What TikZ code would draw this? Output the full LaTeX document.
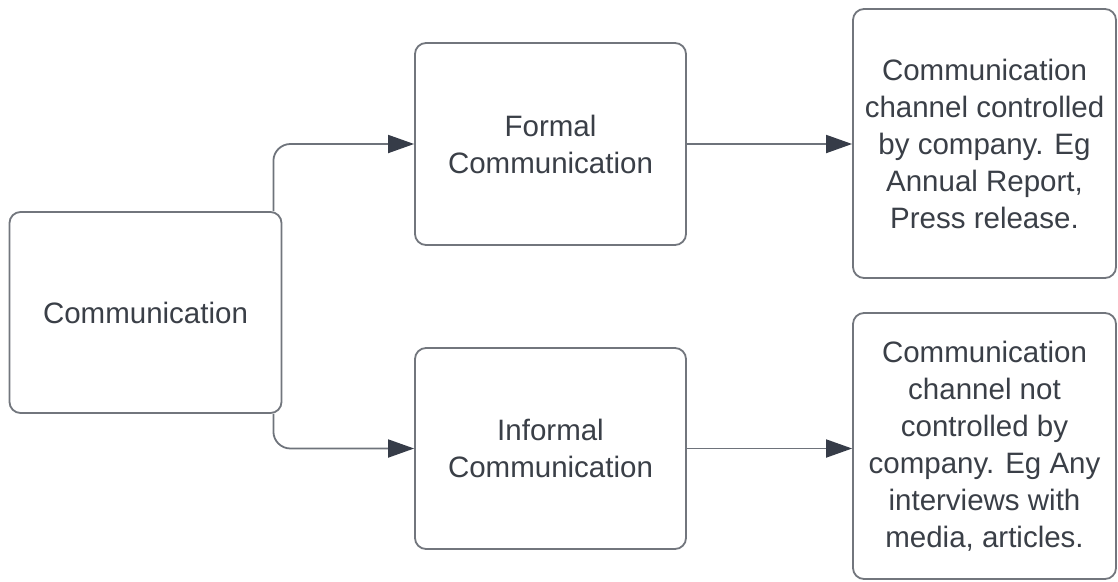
\documentclass[tikz,border=0pt]{standalone}
\usepackage{fontspec}
\setmainfont{Liberation Sans}
\usetikzlibrary{arrows.meta,calc}
\definecolor{boxline}{HTML}{72767D}
\definecolor{linkline}{HTML}{6E737B}
\definecolor{tipfill}{HTML}{363C48}
\definecolor{txt}{HTML}{3A3F47}
\begin{document}
\begin{tikzpicture}[x=1pt,y=-1pt,
  card/.style={draw=boxline,line width=1.8pt,rounded corners=11pt,fill=white,
    text=txt,align=center,inner sep=0pt,
    font=\fontsize{29.5pt}{37pt}\selectfont},
  link/.style={draw=linkline,line width=1.8pt,rounded corners=17pt,
    -{Triangle[length=26pt,width=18pt,fill=tipfill,color=tipfill]}}]
\useasboundingbox (0,0) rectangle (1118,581);
% nodes
\node[card,minimum width=272pt,minimum height=201pt] (comm) at (145.5,312.5) {Communication};
\node[card,minimum width=271pt,minimum height=202pt] (formal) at (550.5,144) {Formal\\Communication};
\node[card,minimum width=271pt,minimum height=201pt] (informal) at (550.5,448.5) {Informal\\Communication};
\node[card,minimum width=263pt,minimum height=269pt] (ctrl) at (984.5,143.5)
  {Communication\\channel controlled\\by company. Eg\\Annual Report,\\Press release.};
\node[card,minimum width=263pt,minimum height=266pt] (nctrl) at (984.5,446)
  {Communication\\channel not\\controlled by\\company. Eg Any\\interviews with\\media, articles.};
% connectors
\draw[link] ([xshift=-9pt]comm.north east) |- (formal.west);
\draw[link] ([xshift=-9pt]comm.south east) |- (informal.west);
\draw[link] (formal.east) -- (ctrl.west |- formal.east);
\draw[link] (informal.east) -- (nctrl.west |- informal.east);
\end{tikzpicture}
\end{document}
